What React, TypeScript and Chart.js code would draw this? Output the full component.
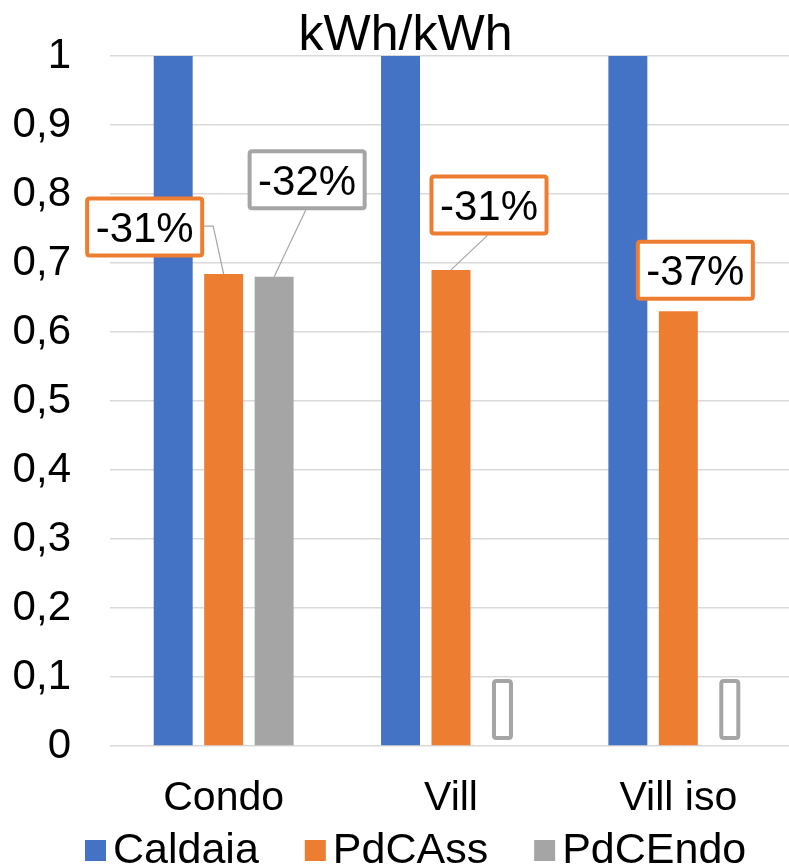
import React, { useEffect, useRef } from "react";
import { Chart, registerables } from "chart.js";

Chart.register(...registerables);

// ---- data ----
const categories = ["Condo", "Vill", "Vill iso"];
const seriesNames = ["Caldaia", "PdCAss", "PdCEndo"];
const seriesColors = ["#4472C4", "#ED7D31", "#A5A5A5"];
const caldaia = [1, 1, 1];
const pdcAss = [0.684, 0.69, 0.63];
const pdcEndo = [0.68, 0, 0];
const pdcAssLabels = ["-31%", "-31%", "-37%"];
const pdcEndoLabels = ["-32%", "", ""];
const yTickLabels = ["0", "0,1", "0,2", "0,3", "0,4", "0,5", "0,6", "0,7", "0,8", "0,9", "1"];
const titleText = "kWh/kWh";

// ---- label placement (offset of label box centre from bar top centre) ----
const pdcAssOffsets = [[-79, -47], [38, -65], [17, -41]];
const pdcEndoOffsets = [[33, -97], [1, -36.5], [1, -36.5]];
const pdcAssLeaders = ["elbowRight", "bottom", "none"];
const pdcEndoLeaders = ["bottom", "none", "none"];

const FONT = "'Liberation Sans', Arial, sans-serif";

function roundRect(ctx: CanvasRenderingContext2D, x: number, y: number, w: number, h: number, r: number) {
  ctx.beginPath();
  ctx.moveTo(x + r, y);
  ctx.lineTo(x + w - r, y);
  ctx.quadraticCurveTo(x + w, y, x + w, y + r);
  ctx.lineTo(x + w, y + h - r);
  ctx.quadraticCurveTo(x + w, y + h, x + w - r, y + h);
  ctx.lineTo(x + r, y + h);
  ctx.quadraticCurveTo(x, y + h, x, y + h - r);
  ctx.lineTo(x, y + r);
  ctx.quadraticCurveTo(x, y, x + r, y);
  ctx.closePath();
}

const overlayPlugin = {
  id: "overlay",
  afterDatasetsDraw(chart: any) {
    const ctx: CanvasRenderingContext2D = chart.ctx;
    const groups: [number, string[], number[][], string[], string][] = [
      [1, pdcAssLabels, pdcAssOffsets, pdcAssLeaders, seriesColors[1]],
      [2, pdcEndoLabels, pdcEndoOffsets, pdcEndoLeaders, seriesColors[2]],
    ];
    ctx.save();
    ctx.font = `42px ${FONT}`;
    for (const [di, labels, offsets, leaders, color] of groups) {
      const meta = chart.getDatasetMeta(di);
      meta.data.forEach((bar: any, i: number) => {
        const text = labels[i];
        const tw = ctx.measureText(text).width;
        const w = tw + 21;
        const h = 61;
        const cx = bar.x + offsets[i][0];
        const cy = bar.y + offsets[i][1];
        const left = cx - w / 2;
        const top = cy - h / 2;
        // leader line
        const lead = leaders[i];
        if (lead !== "none") {
          ctx.strokeStyle = "#A6A6A6";
          ctx.lineWidth = 1.2;
          ctx.beginPath();
          if (lead === "elbowRight") {
            ctx.moveTo(left + w, cy - 1);
            ctx.lineTo(left + w + 9, cy - 1);
          } else {
            ctx.moveTo(cx - 1.5, top + h);
          }
          ctx.lineTo(bar.x, bar.y);
          ctx.stroke();
        }
        // box
        ctx.fillStyle = "#FFFFFF";
        roundRect(ctx, left + 2, top + 2, w - 4, h - 4, 2.5);
        ctx.fill();
        ctx.strokeStyle = color;
        ctx.lineWidth = 4;
        ctx.stroke();
        // text
        ctx.fillStyle = "#000000";
        ctx.textAlign = "center";
        ctx.textBaseline = "alphabetic";
        ctx.fillText(text, cx, cy + 15);
      });
    }
    ctx.restore();
  },
  afterDraw(chart: any) {
    const ctx: CanvasRenderingContext2D = chart.ctx;
    ctx.save();
    // title
    ctx.font = `50px ${FONT}`;
    ctx.fillStyle = "#000000";
    ctx.textAlign = "center";
    ctx.textBaseline = "alphabetic";
    ctx.fillText(titleText, 405.5, 50);
    // legend
    ctx.font = `43px ${FONT}`;
    ctx.textAlign = "left";
    let x = 85;
    seriesNames.forEach((name, i) => {
      ctx.fillStyle = seriesColors[i];
      ctx.fillRect(x, 840, 21, 21);
      x += 28;
      ctx.fillStyle = "#000000";
      ctx.fillText(name, x, 863);
      x += ctx.measureText(name).width + 46;
    });
    ctx.restore();
  },
};

export default function App() {
  const canvasRef = useRef<HTMLCanvasElement | null>(null);

  useEffect(() => {
    if (!canvasRef.current) return;
    const datasets = [caldaia, pdcAss, pdcEndo].map((values, i) => ({
      label: seriesNames[i],
      data: values,
      backgroundColor: seriesColors[i],
      borderWidth: 0,
      barPercentage: 0.772,
      categoryPercentage: 0.666,
    }));
    const chart = new Chart(canvasRef.current, {
      type: "bar",
      data: { labels: categories, datasets },
      options: {
        animation: false,
        responsive: false,
        maintainAspectRatio: false,
        layout: { padding: { top: 56, left: 0, right: 2, bottom: 0 } },
        plugins: {
          legend: { display: false },
          title: { display: false },
          tooltip: { enabled: false },
        },
        scales: {
          x: {
            grid: { display: false, drawTicks: false },
            border: { display: false },
            ticks: {
              padding: 28,
              color: "#000000",
              font: { family: FONT, size: 41 },
              maxRotation: 0,
              autoSkip: false,
            },
            afterFit: (scale: any) => {
              scale.height = 122;
            },
          },
          y: {
            min: 0,
            max: 1,
            grid: { color: "#D9D9D9", lineWidth: 1.5, drawTicks: false },
            border: { display: false },
            ticks: {
              stepSize: 0.1,
              padding: 39,
              color: "#000000",
              font: { family: FONT, size: 42 },
              callback: (_v: any, i: number) => yTickLabels[i],
            },
            afterFit: (scale: any) => {
              scale.width = 110;
              scale.paddingTop = 0;
              scale.paddingBottom = 0;
            },
          },
        },
      },
      plugins: [overlayPlugin],
    });
    return () => chart.destroy();
  }, []);

  return (
    <div
      style={{
        position: "fixed",
        left: 0,
        top: 0,
        width: 789,
        height: 868,
        overflow: "hidden",
        background: "#FFFFFF",
      }}
    >
      <canvas
        ref={canvasRef}
        width={794}
        height={868}
        style={{ display: "block", width: 794, height: 868 }}
      />
    </div>
  );
}
